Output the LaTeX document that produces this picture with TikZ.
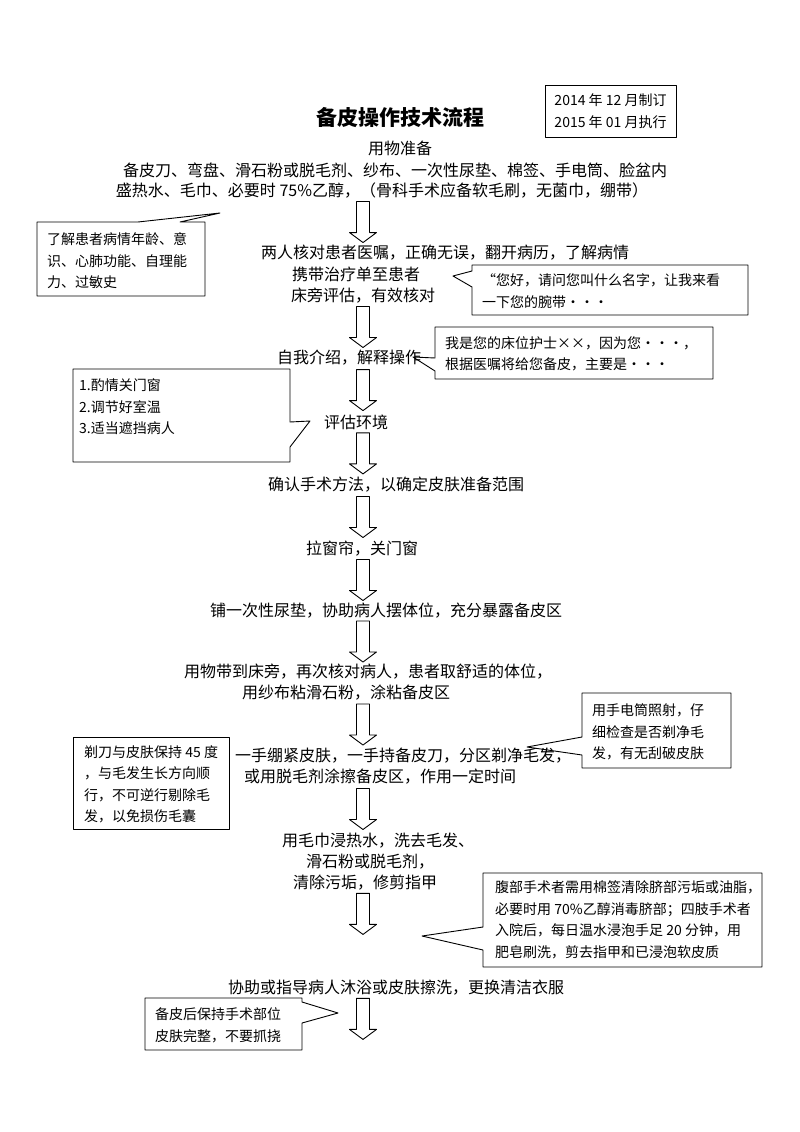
\documentclass[tikz,border=0pt]{standalone}
\usepackage{fontspec}
\setmainfont{Noto Sans CJK SC}
\usepackage{tikz}
\usetikzlibrary{calc}
\tikzset{
stage/.style={inner sep=0pt,font=\fontsize{16}{21}\selectfont},
note/.style={inner sep=0pt,anchor=west,align=left,font=\fontsize{14}{21.5}\selectfont},
callout/.style={draw,line width=0.9pt},
pics/flowarrow/.style={code={\draw[callout] (-6.5,-20.5) -- (6.5,-20.5) -- (6.5,10.5) -- (13.5,10.5) -- (0,20.5) -- (-13.5,10.5) -- (-6.5,10.5) -- cycle;}}
}
\begin{document}
\begin{tikzpicture}[line cap=round,line join=round,x=1pt,y=-1pt]
\useasboundingbox (0,0) rectangle (800,1132);
\coordinate (ax) at (363,0);
\node[font=\fontsize{21}{25}\selectfont\bfseries] (title) at (400,118) {备皮操作技术流程};
\node[callout,minimum width=131pt,minimum height=52pt,align=left,font=\fontsize{14}{22}\selectfont,inner sep=0pt] (date) at (610.5,111) {2014 年 12 月制订\\2015 年 01 月执行};
\node[stage] (s1a) at (400,148) {用物准备};
\node[stage] (s1b) at (395,170) {备皮刀、弯盘、滑石粉或脱毛剂、纱布、一次性尿垫、棉签、手电筒、脸盆内};
\node[stage] (s1c) at (382,191) {盛热水、毛巾、必要时 75\%乙醇，（骨科手术应备软毛刷，无菌巾，绷带）};
\node[stage] (s2a) at (445,253) {两人核对患者医嘱，正确无误，翻开病历，了解病情};
\node[stage] (s2b) at (356,274) {携带治疗单至患者};
\node[stage] (s2c) at (363,296) {床旁评估，有效核对};
\node[stage] (s3) at (349,358) {自我介绍，解释操作};
\node[stage] (s4) at (356,422) {评估环境};
\node[stage] (s5) at (396,485) {确认手术方法，以确定皮肤准备范围};
\node[stage] (s6) at (362,549) {拉窗帘，关门窗};
\node[stage] (s7) at (386,611) {铺一次性尿垫，协助病人摆体位，充分暴露备皮区};
\node[stage] (s8a) at (368,672) {用物带到床旁，再次核对病人，患者取舒适的体位，};
\node[stage] (s8b) at (346,693) {用纱布粘滑石粉，涂粘备皮区};
\node[stage] (s9a) at (403,756) {一手绷紧皮肤，一手持备皮刀，分区剃净毛发，};
\node[stage] (s9b) at (380,777) {或用脱毛剂涂擦备皮区，作用一定时间};
\node[stage] (s10a) at (378,841) {用毛巾浸热水，洗去毛发、};
\node[stage] (s10b) at (370,862) {滑石粉或脱毛剂，};
\node[stage] (s10c) at (365,883) {清除污垢，修剪指甲};
\node[stage] (s11) at (396,988) {协助或指导病人沐浴或皮肤擦洗，更换清洁衣服};
\coordinate (e10) at (363,937);
\coordinate (e11) at (363,1042);
\foreach \a/\b in {s1c.south/s2a.north,s2c.south/s3.north,s3.south/s4.north,s4.south/s5.north,s5.south/s6.north,s6.south/s7.north,s7.south/s8a.north,s8b.south/s9a.north,s9b.south/s10a.north,s10c.south/e10,s11.south/e11}
\path ($(\a -| ax)!0.5!(\b -| ax)$) pic {flowarrow};
\draw[callout] (37,222) -- (138,222) -- (220,213) -- (180,222) -- (205,222) -- (205,296) -- (37,296) -- cycle;
\node[note] (c1) at (47,261) {了解患者病情年龄、意\\识、心肺功能、自理能\\力、过敏史};
\draw[callout] (472,265) -- (748,265) -- (748,315) -- (472,315) -- (472,287) -- (453,276) -- (472,271) -- cycle;
\node[note] (c2) at (482,291) {“您好，请问您叫什么名字，让我来看\\一下您的腕带・・・};
\draw[callout] (435,327) -- (713,327) -- (713,379) -- (435,379) -- (435,371) -- (413,357) -- (435,358) -- cycle;
\node[note] (c3) at (445,354) {我是您的床位护士××，因为您・・・，\\根据医嘱将给您备皮，主要是・・・};
\draw[callout] (73,369) -- (290,369) -- (290,422) -- (310,421) -- (290,447) -- (290,462) -- (73,462) -- cycle;
\node[note] (c4) at (79,407) {1.酌情关门窗\\2.调节好室温\\3.适当遮挡病人};
\draw[callout] (582,693) -- (731,693) -- (731,768) -- (582,768) -- (582,755) -- (527,747) -- (582,737) -- cycle;
\node[note] (c5) at (592,732) {用手电筒照射，仔\\细检查是否剃净毛\\发，有无刮破皮肤};
\draw[callout] (73,737) rectangle (229,829);
\node[note] (c6) at (84,784.5) {剃刀与皮肤保持 45 度\\，与毛发生长方向顺\\行，不可逆行剔除毛\\发，以免损伤毛囊};
\draw[callout] (483,873) -- (762,873) -- (762,967) -- (483,967) -- (483,950) -- (422,936) -- (483,927) -- cycle;
\node[note] (c7) at (495,920) {腹部手术者需用棉签清除脐部污垢或油脂，\\必要时用 70\%乙醇消毒脐部；四肢手术者\\入院后，每日温水浸泡手足 20 分钟，用\\肥皂刷洗，剪去指甲和已浸泡软皮质};
\draw[callout] (145,998) -- (302,998) -- (302,1002) -- (338,1013) -- (302,1023) -- (302,1050) -- (145,1050) -- cycle;
\node[note] (c8) at (155,1025.5) {备皮后保持手术部位\\皮肤完整，不要抓挠};
\end{tikzpicture}
\end{document}
